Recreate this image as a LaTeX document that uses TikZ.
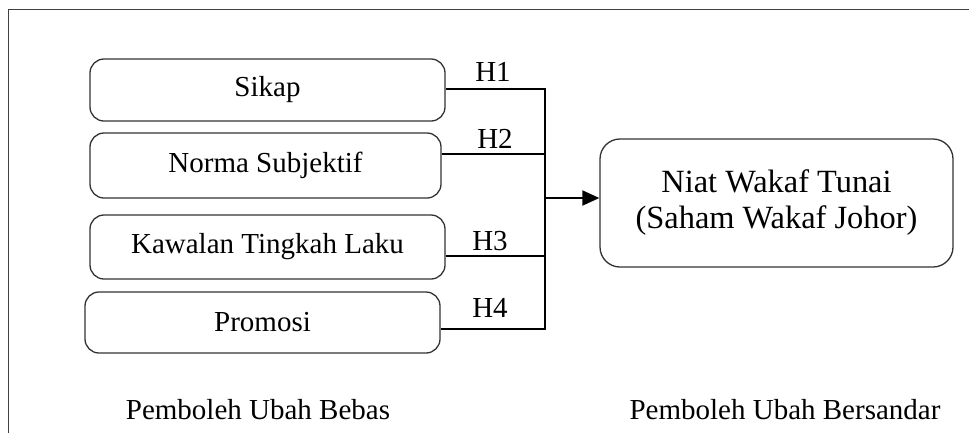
\documentclass[tikz,border=0pt]{standalone}
\usepackage{fontspec}
\setmainfont{Liberation Serif}
\usetikzlibrary{arrows.meta}
\definecolor{framegray}{HTML}{404040}
\definecolor{boxgray}{HTML}{333333}
\tikzset{
  varbox/.style={draw=boxgray, line width=1.3pt, rounded corners=14pt, inner sep=0pt,
    minimum width=355pt, minimum height=62pt, font=\fontsize{29}{35}\selectfont},
  depbox/.style={draw=boxgray, line width=1.3pt, rounded corners=20pt, inner sep=0pt,
    minimum width=353pt, minimum height=128pt, align=center, font=\fontsize{32.4}{36}\selectfont},
  link/.style={draw=black, line width=2pt},
  hlabel/.style={font=\fontsize{29}{35}\selectfont, inner sep=0pt},
  caption/.style={font=\fontsize{29}{35}\selectfont, inner sep=0pt}
}
\begin{document}
\begin{tikzpicture}[x=1pt, y=-1pt]
\useasboundingbox (0,0) rectangle (969,432);
% frame
\draw[framegray, line width=1.5pt] (8.5,440) -- (8.5,9.5) -- (975,9.5);
% boxes
\node[varbox] (sikap) at (267.5,90) {Sikap};
\node[varbox, minimum width=351pt, minimum height=65pt] (norma) at (265.5,165.5) {Norma Subjektif};
\node[varbox, minimum height=64pt] (kawalan) at (267.5,247) {Kawalan Tingkah Laku};
\node[varbox, minimum height=61pt] (promosi) at (262.5,322.5) {Promosi};
\node[depbox] (niat) at (776.5,203) {Niat Wakaf Tunai\\(Saham Wakaf Johor)};
% connection points
\coordinate (s1) at ([yshift=1pt]sikap.east);
\coordinate (s2) at ([yshift=11.5pt]norma.east);
\coordinate (s3) at ([yshift=-9pt]kawalan.east);
\coordinate (s4) at ([yshift=-6.5pt]promosi.east);
\coordinate (bustop) at (545,89);
\coordinate (busmid) at (545,198);
\draw[link, line join=miter] (s1) -- (s1 -| bustop) -- (s4 -| bustop) -- (s4);
\draw[link] (s2) -- (s2 -| bustop);
\draw[link] (s3) -- (s3 -| bustop);
\draw[link, -{Triangle[length=17pt, width=15pt]}] (busmid) -- (niat.west |- busmid);
% labels
\node[hlabel] (h1) at (493,72) {H1};
\node[hlabel] (h2) at (495,139) {H2};
\node[hlabel] (h3) at (490,241) {H3};
\node[hlabel] (h4) at (490,308) {H4};
\node[caption] (bebas) at (258,410) {Pemboleh Ubah Bebas};
\node[caption] (bersandar) at (785,410) {Pemboleh Ubah Bersandar};
\end{tikzpicture}
\end{document}
